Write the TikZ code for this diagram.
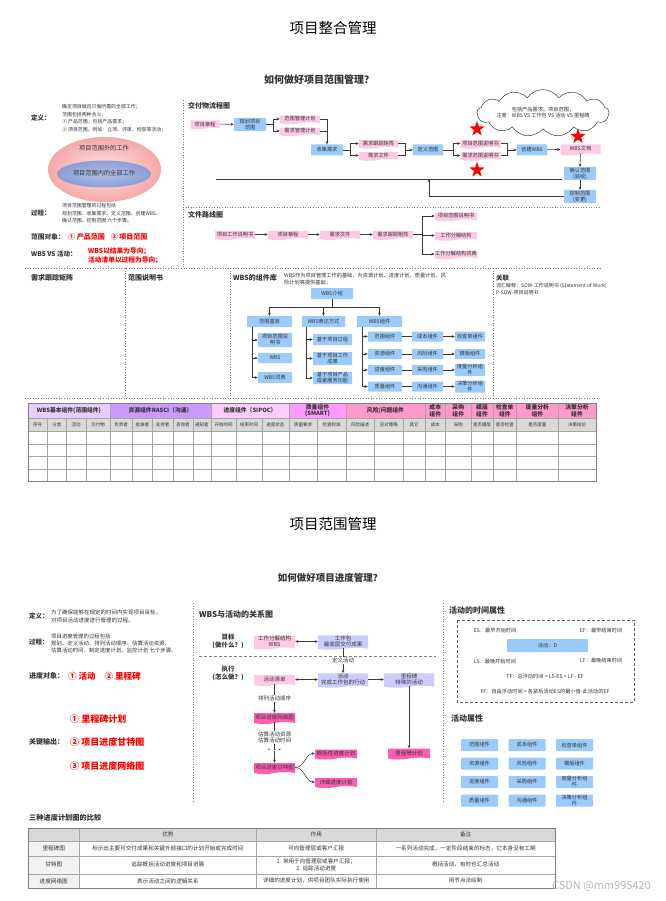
\documentclass[tikz,border=0pt]{standalone}
\usepackage{fontspec}
\setmainfont{Noto Sans CJK SC}
\usetikzlibrary{arrows.meta,shapes.symbols,shapes.geometric,calc}
\definecolor{docpink}{HTML}{FFC8E4}
\definecolor{procblue}{HTML}{9ACBFA}
\definecolor{lavc}{HTML}{CCCCFF}
\definecolor{hotp}{HTML}{FF5CAD}
\definecolor{linec}{HTML}{3A3A3A}
\definecolor{sepc}{HTML}{808080}
\definecolor{txtc}{HTML}{333333}
\definecolor{redc}{HTML}{FF0000}
\definecolor{hA}{HTML}{E6CCFF}
\definecolor{hB}{HTML}{CC99FF}
\definecolor{hC}{HTML}{FFCCFF}
\definecolor{hD}{HTML}{FF99FF}
\definecolor{hE}{HTML}{FF99CC}
\definecolor{subg}{HTML}{D9D9D9}
\definecolor{lgray}{HTML}{F2F2F2}
\definecolor{gridc}{HTML}{A6A6A6}
\definecolor{outpink}{HTML}{F6A8A8}
\definecolor{inblue}{HTML}{8A9ED3}
\newcommand\fsS{\fontsize{5.2}{6}\selectfont}
\newcommand\fsH{\fontsize{7}{8}\selectfont\bfseries}
\newcommand\fsHH{\fontsize{8}{9}\selectfont\bfseries}
\tikzset{
 ln/.style={draw=linec, line width=0.55pt},
 arr/.style={ln, -{Stealth[length=3.2pt,width=2.8pt]}},
 darr/.style={ln, {Stealth[length=3.2pt,width=2.8pt]}-{Stealth[length=3.2pt,width=2.8pt]}},
 sep/.style={draw=sepc, dotted, line width=0.6pt},
 docbox/.style={tape, tape bend top=none, tape bend height=2pt, fill=docpink, draw=none, font=\fsS, text=txtc, inner sep=0.5pt, align=center, minimum width=40pt, minimum height=8.5pt},
 lavbox/.style={docbox, fill=lavc},
 hotbox/.style={docbox, fill=hotp},
 procbox/.style={rectangle, rounded corners=0.6pt, fill=procblue, draw=none, font=\fsS, text=txtc, inner sep=0.5pt, align=center, minimum width=32pt, minimum height=11pt},
 lbl/.style={font=\fsS, text=txtc, inner sep=0.6pt},
 head/.style={font=\fsH, text=txtc, anchor=west, inner sep=0pt},
 headB/.style={font=\fsHH, text=txtc, anchor=west, inner sep=0pt},
 blockt/.style={anchor=west, align=left, text=txtc, inner sep=0pt},
 cell/.style={draw=gridc, line width=0.4pt, inner sep=0pt, align=center, text=txtc},
 redt/.style={anchor=west, text=redc, inner sep=0pt, align=left},
 starx/.style={star, star points=5, star point ratio=2.5, fill=redc, draw=none, inner sep=0pt, minimum size=16pt},
}
\begin{document}
\begin{tikzpicture}[x=1pt,y=-1pt]
\fill[white] (0,0) rectangle (665,901);
\useasboundingbox (0,0) rectangle (665,901);

% ================= titles
\node[font=\fontsize{14.5}{16}\selectfont] (title1) at (333,28) {项目整合管理};
\node[font=\fontsize{10}{12}\selectfont\bfseries, text=txtc] (sub1) at (319,80) {如何做好项目范围管理？};

% ================= separators (top)
\draw[sep] (183,100) -- (183,268);
\draw[sep] (183,207) -- (600,207);
\draw[sep] (25,268) -- (600,268);
\draw[sep] (125,268) -- (125,398);
\draw[sep] (230,268) -- (230,398);
\draw[sep] (493,268) -- (493,398);
\draw[sep] (25,398) -- (598,398);

% ================= left top panel
\node[head, font=\fontsize{6.5}{7.5}\selectfont\bfseries] (defL) at (31,118) {定义：};
\node[blockt, font=\fontsize{4.9}{7.4}\selectfont] (defT) at (62,118.3) {确定项目做且只做所需的全部工作；\\范围包括两种含义：\\① 产品范围，包括产品需求；\\② 项目范围，例如：立项、评审、检查等活动；};
\shade[inner color=outpink!30!white, outer color=outpink] (104.5,169.5) ellipse [x radius=56.5pt, y radius=32.5pt];
\shade[inner color=inblue!65!white, outer color=inblue] (104,174) ellipse [x radius=47pt, y radius=13.5pt];
\node[font=\fontsize{6.2}{7}\selectfont, text=txtc] (e1) at (104,148.5) {项目范围外的工作};
\node[font=\fontsize{6.2}{7}\selectfont, text=txtc] (e2) at (104,173.5) {项目范围内的全部工作};
\node[head, font=\fontsize{6.5}{7.5}\selectfont\bfseries] (procL) at (31,213.3) {过程：};
\node[blockt, font=\fontsize{4.9}{7.4}\selectfont] (procT) at (62,213.3) {项目范围管理的过程包括\\规划范围、收集需求、定义范围、创建WBS、\\确认范围、控制范围 六个步骤。};
\node[head, font=\fontsize{6.7}{7.5}\selectfont\bfseries] (objL) at (31,237) {范围对象：};
\node[redt, font=\fontsize{7}{8}\selectfont\bfseries] (objR) at (68,237) {① 产品范围\hspace{6pt}② 项目范围};
\node[head, font=\fontsize{6.5}{7.5}\selectfont\bfseries] (vsL) at (31,254.5) {WBS VS 活动：};
\node[redt, font=\fontsize{6.7}{9}\selectfont\bfseries] (vsR) at (88,255.5) {WBS以结果为导向；\\活动清单以过程为导向；};

% ================= 交付物流程图
\node[head] (hFlow) at (188,106) {交付物流程图};
\node[docbox, minimum width=29pt, minimum height=9pt] (p1) at (205,124) {项目章程};
\node[procbox, minimum height=13pt] (p2) at (250,124.5) {规划项目\\范围};
\node[docbox] (p3) at (300,119) {范围管理计划};
\node[docbox] (p4) at (300,131) {需求管理计划};
\node[procbox] (p5) at (327,150) {收集需求};
\node[docbox, minimum width=39pt] (p6) at (378.5,143.5) {需求跟踪矩阵};
\node[docbox, minimum width=39pt] (p7) at (378.5,155.5) {需求文件};
\node[procbox, minimum width=30pt] (p8) at (428,150) {定义范围};
\node[docbox] (p9) at (480.5,143.5) {项目范围说明书};
\node[docbox] (p10) at (480.5,155.5) {需求范围说明书};
\node[procbox, minimum width=30pt] (p11) at (532,150) {创建WBS};
\node[docbox, minimum height=11pt] (p12) at (580.5,149) {WBS文档};
\node[procbox, minimum height=13pt] (p13) at (580,173.5) {确认范围\\(验收)};
\node[procbox, minimum height=13pt] (p14) at (580,196.5) {控制范围\\(变更)};
\node[cloud, cloud puffs=13, cloud puff arc=110, aspect=4.2, draw=linec, fill=white, line width=0.5pt, minimum width=125pt, minimum height=30pt, font=\fsS, text=txtc, align=center, inner sep=0pt] (cloud) at (543,113) {包括产品需求、项目范围；\\注意：WBS VS 工作包 VS 活动 VS 里程碑};
\node[starx] (st1) at (477,129) {};
\node[starx] (st2) at (477,170) {};
\node[starx] (st3) at (578,136.5) {};

\draw[arr] (p1) -- (p2);
\coordinate (j1) at (273,124.5);
\draw[ln] (p2.east) -- (j1);
\draw[ln] (j1 |- p3.west) -- (j1 |- p4.west);
\draw[arr] (j1 |- p3.west) -- (p3.west);
\draw[arr] (j1 |- p4.west) -- (p4.west);
\draw[arr] (p3.east) -| (p5.north);
\draw[ln] (p4.east) -- (p4.east -| p5.north);
\coordinate (j2) at (350,150);
\draw[ln] (p5.east) -- (j2);
\draw[ln] (j2 |- p6.west) -- (j2 |- p7.west);
\draw[arr] (j2 |- p6.west) -- (p6.west);
\draw[arr] (j2 |- p7.west) -- (p7.west);
\coordinate (j3) at (405,150);
\draw[ln] (p6.east) -- (p6.east -| j3) -- (p7.east -| j3) -- (p7.east);
\draw[arr] (j3) -- (p8.west);
\coordinate (j4) at (453,150);
\draw[ln] (p8.east) -- (j4);
\draw[ln] (j4 |- p9.west) -- (j4 |- p10.west);
\draw[arr] (j4 |- p9.west) -- (p9.west);
\draw[arr] (j4 |- p10.west) -- (p10.west);
\coordinate (j5) at (507,150);
\draw[ln] (p9.east) -- (p9.east -| j5) -- (p10.east -| j5) -- (p10.east);
\draw[arr] (j5) -- (p11.west);
\draw[arr] (p11) -- (p12);
\draw[arr] (p12.south) -- (p13.north);
\draw[arr] (p13) -- (p14);
\coordinate (hl1) at (216,179);
\coordinate (hl2) at (562,179);
\coordinate (fbup) at (429,179);
\draw[ln] (hl1) -- (hl2);
\draw[arr] (p14.west) -| (fbup);

% ================= 文件路线图
\node[head] (hDoc) at (188,215) {文件路线图};
\node[docbox, minimum height=9pt] (f1) at (235,234.5) {项目工作说明书};
\node[docbox, minimum height=9pt] (f2) at (288,234.5) {项目章程};
\node[docbox, minimum height=9pt] (f3) at (340,234.5) {需求文件};
\node[docbox, minimum height=9pt] (f4) at (393,234.5) {需求跟踪矩阵};
\node[docbox, minimum width=42pt] (f5) at (456,216) {项目范围说明书};
\node[docbox, minimum width=42pt] (f6) at (456,235.5) {工作分解结构};
\node[docbox, minimum width=42pt] (f7) at (456,254) {工作分解结构词典};
\draw[arr] (f1) -- (f2);
\draw[arr] (f2) -- (f3);
\draw[arr] (f3) -- (f4);
\coordinate (j6) at (422,234.5);
\draw[ln] (f4.east) -- (j6);
\draw[ln] (j6 |- f5.west) -- (j6 |- f7.west);
\draw[arr] (j6 |- f5.west) -- (f5.west);
\draw[arr] (j6 |- f6.west) -- (f6.west);
\draw[arr] (j6 |- f7.west) -- (f7.west);

% ================= middle row
\node[head] (hReq) at (31,278) {需求跟踪矩阵};
\node[head] (hScope) at (128,278) {范围说明书};
\node[head] (hLib) at (233,278) {WBS的组件库};
\node[blockt, font=\fontsize{5.2}{6.5}\selectfont] (libT) at (284,279.3) {WBS作为项目管理工作的基础，为资源计划、进度计划、质量计划、风\\险计划等提供基础；};

\node[procbox, minimum width=42pt] (w0) at (332,293.5) {WBS介绍};
\node[procbox, minimum width=45pt] (w1) at (269.5,321.5) {范围基准};
\node[procbox, minimum width=43pt] (w2) at (323.5,321.5) {WBS表达方式};
\node[procbox, minimum width=45pt] (w3) at (379.5,321.5) {WBS组件};
\coordinate (wj) at (332,307);
\draw[ln] (w0.south) -- (wj);
\draw[arr] (wj) -| (w1.north);
\draw[arr] (wj) -| (w3.north);
\draw[arr] (w2.north |- wj) -- (w2.north);

\node[procbox, minimum width=34pt, minimum height=14pt] (w11) at (275,340) {项目范围说\\明书};
\node[procbox, minimum width=34pt, minimum height=10pt] (w12) at (275,358) {WBS};
\node[procbox, minimum width=34pt, minimum height=11pt] (w13) at (275,377.5) {WBS词典};
\coordinate (v1) at (252,327);
\draw[ln] (v1) -- (v1 |- w13.west);
\draw[arr] (v1 |- w11.west) -- (w11.west);
\draw[arr] (v1 |- w12.west) -- (w12.west);
\draw[arr] (v1 |- w13.west) -- (w13.west);

\node[procbox, minimum width=39pt, minimum height=11pt] (w21) at (332.5,339.5) {基于项目过程};
\node[procbox, minimum width=39pt, minimum height=13pt] (w22) at (332.5,358.5) {基于项目工作\\成果};
\node[procbox, minimum width=39pt, minimum height=12pt] (w23) at (332.5,378) {基于项目产品\\或者服务功能};
\coordinate (v2) at (306,327);
\draw[ln] (v2) -- (v2 |- w23.west);
\draw[arr] (v2 |- w21.west) -- (w21.west);
\draw[arr] (v2 |- w22.west) -- (w22.west);
\draw[arr] (v2 |- w23.west) -- (w23.west);

\node[procbox, minimum width=34pt, minimum height=10pt] (w31) at (385,336.5) {范围组件};
\node[procbox, minimum width=34pt, minimum height=10pt] (w32) at (385,354) {资源组件};
\node[procbox, minimum width=34pt, minimum height=10pt] (w33) at (385,370) {进度组件};
\node[procbox, minimum width=34pt, minimum height=10pt] (w34) at (385,386.5) {质量组件};
\coordinate (v3) at (362,327);
\draw[ln] (v3) -- (v3 |- w34.west);
\foreach \k in {1,2,3,4} \draw[arr] (v3 |- w3\k.west) -- (w3\k.west);
\node[procbox, minimum width=31pt, minimum height=10pt] (w41) at (427.5,336.5) {成本组件};
\node[procbox, minimum width=31pt, minimum height=10pt] (w42) at (427.5,354) {风险组件};
\node[procbox, minimum width=31pt, minimum height=10pt] (w43) at (427.5,370) {采购组件};
\node[procbox, minimum width=31pt, minimum height=10pt] (w44) at (427.5,386.5) {沟通组件};
\node[procbox, minimum width=30pt, minimum height=10pt] (w51) at (470,336.5) {检查单组件};
\node[procbox, minimum width=30pt, minimum height=10pt] (w52) at (470,354) {模版组件};
\node[procbox, minimum width=30pt, minimum height=12pt] (w53) at (470,370) {度量分析组\\件};
\node[procbox, minimum width=30pt, minimum height=12pt] (w54) at (470,386.5) {决策分析组\\件};
\foreach \k in {1,2,3,4} {
  \draw[ln] (w3\k.east) -- (w4\k.west);
  \draw[arr] (w4\k.east) -- (w5\k.west);
}

\node[head, font=\fontsize{6.5}{7.5}\selectfont\bfseries] (hRel) at (496,278) {关联};
\node[blockt, font=\fontsize{5}{6.8}\selectfont] (relT) at (496,289.5) {词汇解释：SOW-工作说明书 (Statement of Work)\\P-SOW-项目说明书};

% ================= table 1
\foreach \xa/\xb/\hc/\lab [count=\i] in {28/110/hA/{WBS基本组件(范围组件)}, 110/211/hB/{资源组件RASCI（沟通）}, 211/289/hC/{进度组件（SIPOC）}, 289/346/hD/{质量组件\\(SMART)}, 346/425/hE/{风险/问题组件}, 425/445.5/hE/{成本\\组件}, 445.5/471/hE/{采购\\组件}, 471/493/hE/{模版\\组件}, 493/516.6/hE/{检查单\\组件}, 516.6/558/hE/{度量分析\\组件}, 558/596/hE/{决策分析\\组件}}
  \node[cell, fill=\hc, minimum width={\xb-\xa}, minimum height=15.3, font=\fontsize{5.8}{6.6}\selectfont\bfseries] (th\i) at ({(\xa+\xb)/2},410.65) {\lab};
\foreach \xa/\xb/\lab [count=\i] in {28/47.4/序号, 47.4/66.3/分类, 66.3/86.1/活动, 86.1/110/交付物, 110/132.3/负责者, 132.3/152.4/批准者, 152.4/173/支持者, 173/192.7/咨询者, 192.7/211/通知者, 211/236.2/开始时间, 236.2/261.8/结束时间, 261.8/289/进度状态, 289/317.1/质量要求, 317.1/346/检查标准, 346/374.4/风险描述, 374.4/403.2/应对策略, 403.2/425/其它, 425/445.5/成本, 445.5/471/采购, 471/493/是否模版, 493/516.6/是否检查, 516.6/558/是否度量, 558/596/决策结论} {
  \node[cell, fill=subg, minimum width={\xb-\xa}, minimum height=12.5, font=\fontsize{4.5}{5}\selectfont] (ts\i) at ({(\xa+\xb)/2},424.55) {\lab};
  \foreach \ya/\yb [count=\j] in {430.8/443.7, 443.7/456.5, 456.5/469, 469/481}
    \node[cell, fill=white, minimum width={\xb-\xa}, minimum height={\yb-\ya}] (tb\i-\j) at ({(\xa+\xb)/2},{(\ya+\yb)/2}) {};
}
\draw[draw=gray, line width=0.7pt] (28,403) rectangle (596,481);

% ================= bottom titles
\node[font=\fontsize{14.5}{16}\selectfont] (title2) at (333,524) {项目范围管理};
\node[font=\fontsize{9.5}{11}\selectfont\bfseries, text=txtc] (sub2) at (330,578) {如何做好项目进度管理？};

\draw[sep] (193,603) -- (193,802);
\draw[sep] (443,603) -- (443,802);

% ================= bottom left
\node[head, font=\fontsize{6.5}{7.5}\selectfont\bfseries] (bdefL) at (29,616) {定义：};
\node[blockt, font=\fontsize{5.5}{7.7}\selectfont] (bdefT) at (51,616.2) {为了确保能够在规定的时间内实现项目目标，\\对项目活动进度进行管理的过程。};
\node[head, font=\fontsize{6.5}{7.5}\selectfont\bfseries] (bprocL) at (29,642) {过程：};
\node[blockt, font=\fontsize{5.4}{6.7}\selectfont] (bprocT) at (51,643.3) {项目进度管理的过程包括\\规划、定义活动、排列活动顺序、估算活动资源、\\估算活动时间、制定进度计划、监控计划 七个步骤。};
\node[head, font=\fontsize{7}{8}\selectfont\bfseries] (bobjL) at (29,676) {进度对象：};
\node[redt, font=\fontsize{8.5}{9.5}\selectfont\bfseries] (bobjR) at (68,676) {① 活动\hspace{9pt}② 里程碑};
\node[redt, font=\fontsize{9}{10}\selectfont\bfseries] (ko1) at (70,719) {① 里程碑计划};
\node[head, font=\fontsize{7}{8}\selectfont\bfseries] (bkeyL) at (29,742) {关键输出：};
\node[redt, font=\fontsize{9}{10}\selectfont\bfseries] (ko2) at (70,742) {② 项目进度甘特图};
\node[redt, font=\fontsize{9}{10}\selectfont\bfseries] (ko3) at (70,766) {③ 项目进度网络图};

% ================= WBS与活动的关系图
\node[headB] (hRel2) at (199,614) {WBS与活动的关系图};
\node[font=\fontsize{6.5}{8}\selectfont\bfseries, text=txtc, align=center, inner sep=0pt] (goal) at (228,641.7) {目标\\(做什么？)};
\node[font=\fontsize{6.5}{8}\selectfont\bfseries, text=txtc, align=center, inner sep=0pt] (exec) at (228,673) {执行\\(怎么做？)};
\node[docbox, minimum width=41pt, minimum height=12pt, font=\fontsize{5.5}{6.3}\selectfont] (g1) at (274.5,641.5) {工作分解结构\\WBS};
\node[lavbox, minimum width=50pt, minimum height=12pt, font=\fontsize{5.5}{6.3}\selectfont] (g2) at (343,641.5) {工作包\\最底层交付成果};
\node[docbox, minimum width=41pt, minimum height=11pt, font=\fontsize{5.5}{6.3}\selectfont] (g3) at (274.5,679.5) {活动清单};
\node[lavbox, minimum width=50pt, minimum height=12pt, font=\fontsize{5.5}{6.3}\selectfont] (g4) at (343,679.5) {活动\\完成工作包的行动};
\node[lavbox, minimum width=50pt, minimum height=12pt, font=\fontsize{5.5}{6.3}\selectfont] (g5) at (409,679.5) {里程碑\\特殊的活动};
\node[hotbox, minimum width=41pt, minimum height=11pt, font=\fontsize{5.5}{6.3}\selectfont] (g6) at (274.5,717.5) {项目进度网络图};
\node[hotbox, minimum width=41pt, minimum height=11pt, font=\fontsize{5.5}{6.3}\selectfont] (g7) at (274.5,767.5) {项目进度甘特图};
\node[hotbox, minimum width=42pt, minimum height=10pt, font=\fontsize{5.5}{6.3}\selectfont] (g8) at (336,753.5) {概括性进度计划};
\node[hotbox, minimum width=42pt, minimum height=10pt, font=\fontsize{5.5}{6.3}\selectfont] (g9) at (336,782) {详细进度计划};
\node[hotbox, minimum width=42pt, minimum height=11pt, font=\fontsize{5.5}{6.3}\selectfont] (g10) at (409,753) {里程碑计划};
\coordinate (dl1) at (199,656);
\coordinate (dl2) at (436,656);
\draw[draw=gray, line width=0.8pt, dash pattern=on 3pt off 2pt] (dl1) -- (dl2);
\draw[darr] (g1.east) -- (g2.west);
\draw[arr] (g2.south) -- (g4.north) node[midway, fill=white, lbl, font=\fontsize{5.5}{6.3}\selectfont] (lb1) {定义活动};
\draw[darr] (g3.east) -- (g4.west);
\draw[arr] (g4.east) -- (g5.west);
\draw[arr] (g3.south) -- (g6.north) node[midway, fill=white, lbl, font=\fontsize{5.5}{6.3}\selectfont] (lb2) {排列活动顺序};
\draw[arr] (g6.south) -- (g7.north);
\node[fill=white, lbl, font=\fontsize{5.5}{6.5}\selectfont, align=center] (lb3) at (274.5,737.5) {估算活动资源\\估算活动时间};
\node[fill=white, lbl, font=\fontsize{7}{7}\selectfont\bfseries] (lb4) at (274.5,750) {.\hspace{3pt}.\hspace{3pt}.};
\draw[arr] (g7.east) to[out=0,in=180] (g8.west);
\draw[arr] (g7.east) to[out=0,in=180] (g9.west);
\draw[arr] (g5.south) -- (g10.north);

% ================= 活动的时间属性
\node[headB] (hTime) at (449,610) {活动的时间属性};
\draw[draw=linec!80, line width=0.7pt, dash pattern=on 3pt off 2pt] (457,620) rectangle (634,702);
\node[lbl, anchor=west] (es) at (473,631) {ES：最早开始时间};
\node[lbl, anchor=east] (ef) at (623,630.5) {EF：最早结束时间};
\node[procbox, minimum width=81pt, minimum height=13pt] (actD) at (547.5,645.5) {活动：D};
\node[lbl, anchor=west] (ls) at (473,662) {LS：最晚开始时间};
\node[lbl, anchor=east] (lf) at (623,660.5) {LF：最晚结束时间};
\node[lbl] (tf) at (545,677) {TF：总浮动时间 = LS-ES = LF - EF};
\node[lbl] (ff) at (545,692) {FF：自由浮动时间 = 各紧后活动ES的最小值-此活动的EF};

% ================= 活动属性
\node[headB] (hAttr) at (451,718) {活动属性};
\foreach \lab/\xx/\yy [count=\i] in {范围组件/479.5/745, 成本组件/527/745, 检查单组件/574.5/745, 资源组件/479.5/763.5, 风险组件/527/763.5, 模版组件/574.5/763.5, 进度组件/479.5/782, 采购组件/527/782, {度量分析组\\件}/574.5/782, 质量组件/479.5/800.5, 沟通组件/527/800.5, {决策分析组\\件}/574.5/800.5}
  \node[procbox, rounded corners=1pt, minimum width=37pt, minimum height=12pt] (att\i) at (\xx,\yy) {\lab};

% ================= comparison table
\node[head, font=\fontsize{7.2}{8}\selectfont\bfseries] (hCmp) at (29,818) {三种进度计划图的比较};
\foreach \xa/\xb/\lab [count=\i] in {28/79.4/{}, 79.4/256.3/优势, 256.3/376.2/作用, 376.2/555/备注}
  \node[cell, fill=subg, minimum width={\xb-\xa}, minimum height=13.3, font=\fontsize{5.6}{6.5}\selectfont] (ch\i) at ({(\xa+\xb)/2},834.65) {\lab};
\foreach \ya/\yb/\la/\lb/\lc/\ld [count=\j] in {
  841.3/855.7/里程碑图/标示出主要可交付成果和关键外部接口的计划开始或完成时间/可向管理层或客户汇报/一系列活动完成，一定阶段结束的标志，它本身没有工期,
  855.7/873.7/甘特图/追踪概括活动进度和项目进展/{1. 常用于向管理层或客户汇报；\\2. 追踪活动进度}/概括活动，有时也汇总活动,
  873.7/888/进度网络图/表示活动之间的逻辑关系/详细的进度计划，供项目团队实际执行使用/用节点法绘制} {
  \node[cell, fill=lgray, minimum width=51.4, minimum height={\yb-\ya}, font=\fontsize{5.6}{6.5}\selectfont] (cr\j a) at (53.7,{(\ya+\yb)/2}) {\la};
  \node[cell, fill=white, minimum width=176.9, minimum height={\yb-\ya}, font=\fontsize{5.6}{6.5}\selectfont] (cr\j b) at (167.85,{(\ya+\yb)/2}) {\lb};
  \node[cell, fill=white, minimum width=119.9, minimum height={\yb-\ya}, font=\fontsize{5.6}{6.5}\selectfont] (cr\j c) at (316.25,{(\ya+\yb)/2}) {\lc};
  \node[cell, fill=white, minimum width=178.8, minimum height={\yb-\ya}, font=\fontsize{5.6}{6.5}\selectfont] (cr\j d) at (465.6,{(\ya+\yb)/2}) {\ld};
}
\draw[draw=gray, line width=0.7pt] (28,828) rectangle (555,888);

% ================= watermark
\node[anchor=east, font=\fontsize{11}{12}\selectfont, text=gray!55, inner sep=0pt] (wm) at (651,886) {CSDN @mm995420};
\end{tikzpicture}
\end{document}
